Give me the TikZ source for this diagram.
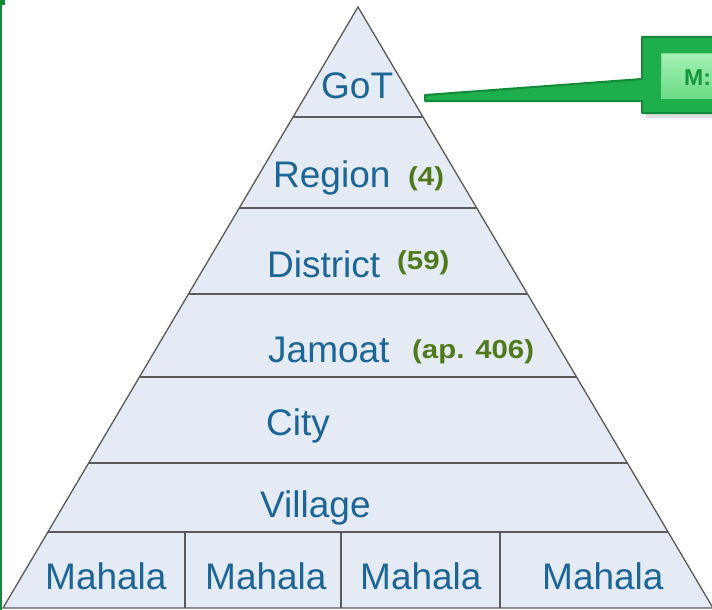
\documentclass[tikz,border=0pt]{standalone}
\usepackage{fontspec}
\setmainfont{Liberation Sans}
\newfontfamily\gfont[FakeStretch=1.13]{Liberation Sans}
\usetikzlibrary{calc}
\definecolor{pyrfill}{HTML}{E4EBF5}
\definecolor{pyrline}{HTML}{5A5A5A}
\definecolor{lvltext}{HTML}{1B6696}
\definecolor{numtext}{HTML}{4F7A1C}
\definecolor{cgreen}{HTML}{1FAE4C}
\definecolor{cgreendark}{HTML}{128A3A}
\definecolor{cinnertop}{HTML}{A6F0B4}
\definecolor{cinnerbot}{HTML}{6ADB84}
\definecolor{ctext}{HTML}{17963F}
\begin{document}
\begin{tikzpicture}[x=1pt,y=-1pt,
  lvl/.style={inner sep=0pt, anchor=base west, text=lvltext, font=\fontsize{37}{40}\selectfont},
  num/.style={inner sep=0pt, anchor=base west, text=numtext, font=\gfont\bfseries\fontsize{26}{28}\selectfont},
  tier/.style={draw=pyrline, line width=1.5pt},
  calloutinner/.style={inner sep=0pt, anchor=north west, minimum width=80pt, minimum height=45pt,
     top color=cinnertop, bottom color=cinnerbot, draw=cinnertop!70!cgreen, line width=0.8pt}]
\useasboundingbox (0,0) rectangle (712,610);
\clip (0,0) rectangle (712,610);
% pyramid
\coordinate (apex) at (358,7);
\coordinate (bl) at (3,608);
\coordinate (br) at (713,608);
\fill[pyrfill] (apex) -- (bl) -- (br) -- cycle;
\begin{scope}
  \clip (apex) -- (bl) -- (br) -- cycle;
  \foreach \y in {117,208,294,377,463,532} \draw[tier] (0,\y) -- (712,\y);
  \foreach \x in {185,341,500} \draw[tier] (\x,532) -- (\x,608);
\end{scope}
\draw[pyrline, line width=1.3pt, line join=miter] (apex) -- (bl) -- (br) -- cycle;
% labels
\node[lvl] (got) at (321,99) {GoT};
\node[lvl] (region) at (273,187) {Region};
\node[num] (n4) at (408,185) {(4)};
\node[lvl] (district) at (267,277) {District};
\node[num] (n59) at (397,269) {(59)};
\node[lvl] (jamoat) at (268,362) {Jamoat};
\node[num] (n406) at (412,358) {(ap. 406)};
\node[lvl] (city) at (266,435) {City};
\node[lvl] (village) at (260,517) {Village};
\node[lvl] (m1) at (45,589) {Mahala};
\node[lvl] (m2) at (205,589) {Mahala};
\node[lvl] (m3) at (360,589) {Mahala};
\node[lvl] (m4) at (542,589) {Mahala};
% callout
\coordinate (tiptop) at (425,95);
\coordinate (tipbot) at (425,101);
\fill[black, opacity=0.12] (646,42) rectangle (740,118);
\filldraw[fill=cgreen, draw=cgreendark, line width=2pt, line join=round]
  (642,37) -- (740,37) -- (740,113) -- (642,113) -- (642,101) -- (tipbot) -- (tiptop) -- (642,79) -- cycle;
\node[calloutinner] (callout) at (661,53) {};
\node[inner sep=0pt, anchor=base west, text=ctext, font=\bfseries\fontsize{23}{25}\selectfont] (ctxt) at (684,85) {M:};
% left border
\draw[cgreendark, line width=2.5pt] (1,0) -- (1,610);
\fill[cgreendark] (0,0) rectangle (5,5);
\end{tikzpicture}
\end{document}
